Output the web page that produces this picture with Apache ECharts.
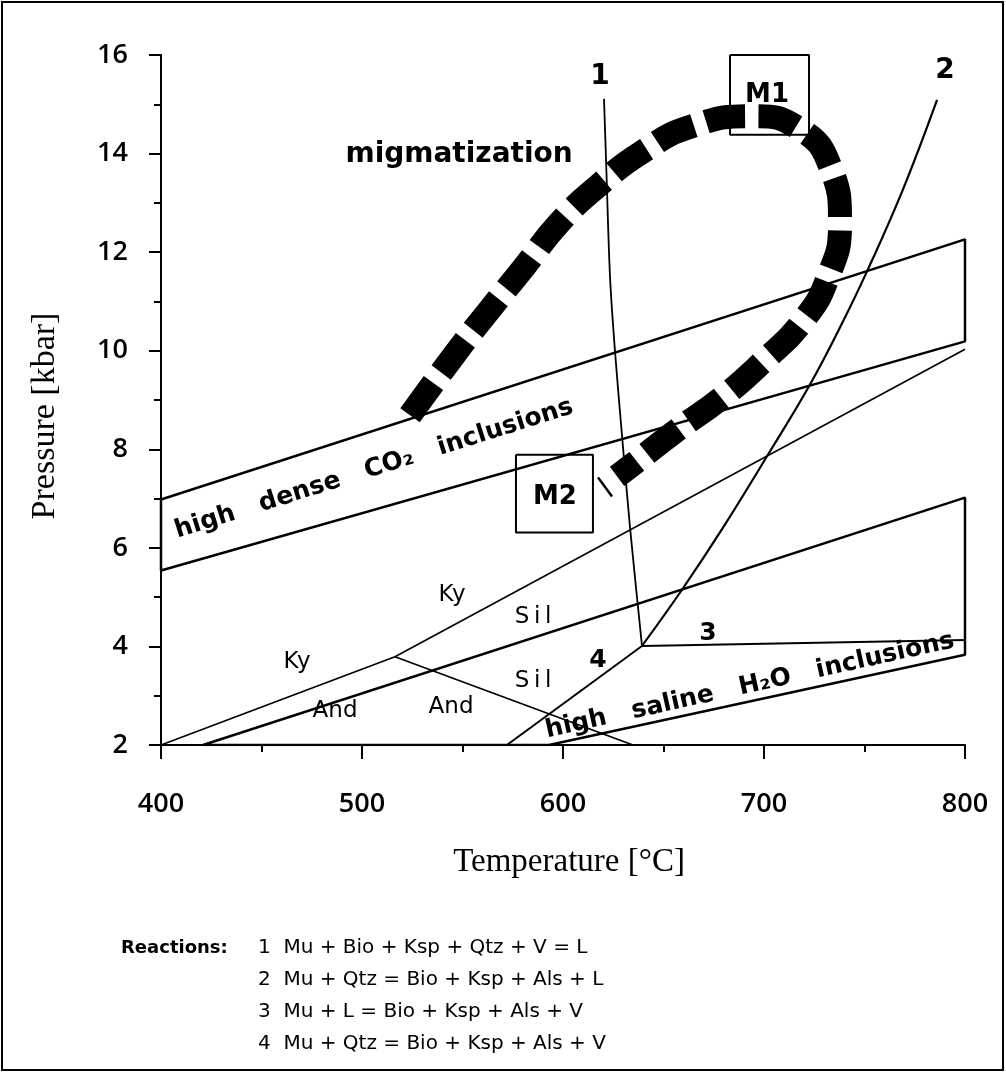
<!DOCTYPE html>
<html><head><meta charset="utf-8">
<script src="https://cdn.jsdelivr.net/npm/echarts@6/dist/echarts.min.js"></script>
<style>html,body{margin:0;padding:0;background:#fff}#c{width:1006px;height:1073px}</style>
</head><body><div id="c"></div>
<script>
// ---- data (temperature °C, pressure kbar) ----
const tempTicks = [400, 500, 600, 700, 800];
const pressTicks = [2, 4, 6, 8, 10, 12, 14, 16];
const co2Band = [[400, 6.98], [800, 12.26], [800, 10.19], [400, 5.54]];
const h2oBand = [[420.9, 2], [800, 7.02], [800, 3.83], [593, 2]];
const kyAnd = [[400, 2], [516.4, 3.79]];
const kySil = [[516.4, 3.79], [800, 10.03]];
const andSil = [[516.4, 3.79], [634.8, 2]];
const reaction1 = [[620.4, 15.11], [621.4, 13.89], [623.4, 11.49], [625.9, 9.97], [629.4, 8.26], [633.3, 6.43], [639.3, 4.01]];
const reaction2 = [[786.1, 15.09], [769.2, 13.28], [751.7, 11.65], [737.3, 10.43], [722.4, 9.28], [703.0, 7.96], [679.6, 6.41], [659.2, 5.15], [639.3, 4.01]];
const reaction3 = [[639.3, 4.01], [801.5, 4.13]];
const reaction4 = [[639.3, 4.01], [572.1, 2]];
const ptPath = [[523.9, 8.69], [547.3, 9.99], [563.7, 10.84], [581.1, 11.72], [598.0, 12.59], [617.9, 13.36], [639.3, 14.03], [663.2, 14.54], [694.0, 14.76], [716.9, 14.52], [732.8, 13.75], [737.8, 12.59], [731.8, 11.49], [718.9, 10.58], [699.5, 9.78], [679.1, 9.05], [655.7, 8.36], [635.3, 7.71], [626.9, 7.45]];
const pathEndBar = [[617.4, 7.43], [624.4, 7.04]];
const boxM1 = [[683.1, 16.0], [722.4, 16.0], [722.4, 14.38], [683.1, 14.38]];
const boxM2 = [[576.6, 7.89], [614.9, 7.89], [614.9, 6.31], [576.6, 6.31]];
// labels: [T, P, text, rotate(deg), kind]
const fieldLabels = [
  [548.3, 13.97, 'migmatization', 0, 'big'],
  [618.4, 15.55, '1', 0, 'num'],
  [790.0, 15.68, '2', 0, 'num'],
  [672.1, 4.26, '3', 0, 'num2'],
  [617.4, 3.71, '4', 0, 'num2'],
  [701.5, 15.19, 'M1', 0, 'box'],
  [596.0, 7.02, 'M2', 0, 'box'],
  [467.7, 3.69, 'Ky', 0, 'min'],
  [544.8, 5.05, 'Ky', 0, 'min'],
  [585.1, 4.60, 'S\u2009i\u2009l', 0, 'min'],
  [585.1, 3.30, 'S\u2009i\u2009l', 0, 'min'],
  [486.6, 2.69, 'And', 0, 'min'],
  [544.3, 2.77, 'And', 0, 'min'],
  [506.0, 7.60, 'high   dense   CO\u2082   inclusions', 17.5, 'band'],
  [693.0, 3.20, 'high   saline   H\u2082O   inclusions', 12.5, 'band']
];
const xTitle = 'Temperature [°C]';
const yTitle = 'Pressure [kbar]';
const reactionTitle = 'Reactions:';
const reactionLines = [
  '1  Mu + Bio + Ksp + Qtz + V = L',
  '2  Mu + Qtz = Bio + Ksp + Als + L',
  '3  Mu + L = Bio + Ksp + Als + V',
  '4  Mu + Qtz = Bio + Ksp + Als + V'
];

// ---- styles ----
const labelFonts = {
  big: 'bold 28px "DejaVu Sans"',
  num: 'bold 28px "DejaVu Sans"',
  num2: 'bold 25px "DejaVu Sans"',
  box: 'bold 26px "DejaVu Sans"',
  min: '23px "DejaVu Sans"',
  band: 'bold 25px "DejaVu Sans"'
};
function closed(a) { return a.concat([a[0]]); }
function ln(data, width, extra) {
  return Object.assign({
    type: 'line', data: data, symbol: 'none', silent: true, animation: false,
    lineStyle: {color: '#000', width: width}, z: 2
  }, extra || {});
}

const chart = echarts.init(document.getElementById('c'), null, {renderer: 'canvas'});
const tickFont = {color: '#000', fontSize: 27, fontFamily: 'Open Sans', fontWeight: 600};
chart.setOption({
  backgroundColor: '#fff',
  animation: false,
  grid: {left: 161, right: 41, top: 55, bottom: 328, containLabel: false, outerBoundsMode: 'none'},
  xAxis: {
    type: 'value', min: tempTicks[0], max: tempTicks[tempTicks.length - 1], interval: 100,
    axisLine: {lineStyle: {color: '#000', width: 2}},
    axisTick: {length: 14, lineStyle: {color: '#000', width: 2}},
    minorTick: {show: true, splitNumber: 2, length: 7, lineStyle: {color: '#000', width: 2}},
    splitLine: {show: false},
    axisLabel: Object.assign({margin: 46, formatter: v => tempTicks.includes(v) ? String(v) : ''}, tickFont)
  },
  yAxis: {
    type: 'value', min: pressTicks[0], max: pressTicks[pressTicks.length - 1], interval: 2,
    axisLine: {lineStyle: {color: '#000', width: 2}},
    axisTick: {length: 12, lineStyle: {color: '#000', width: 2}},
    minorTick: {show: true, splitNumber: 2, length: 7, lineStyle: {color: '#000', width: 2}},
    splitLine: {show: false},
    axisLabel: Object.assign({margin: 33, formatter: v => pressTicks.includes(v) ? String(v) : ''}, tickFont)
  },
  series: [
    ln(closed(co2Band), 2.5),
    ln(closed(h2oBand), 2.5),
    ln(kyAnd, 1.6),
    ln(kySil, 1.6),
    ln(andSil, 1.8),
    ln(reaction1, 1.8, {smooth: 0.3}),
    ln(reaction2, 2.2, {smooth: 0.4}),
    ln(reaction3, 2, {clip: false}),
    ln(reaction4, 2),
    ln(closed(boxM1), 2),
    ln(closed(boxM2), 2),
    ln(ptPath, 24, {smooth: 0.5, z: 5, lineStyle: {color: '#000', width: 24, type: [40, 13], cap: 'butt'}}),
    ln(pathEndBar, 2.5, {z: 5})
  ]
});

// text annotations placed through the chart's own scales
const g = [
  {type: 'rect', shape: {x: 2, y: 2, width: 1001, height: 1068}, style: {fill: 'none', stroke: '#000', lineWidth: 2}, silent: true},
  {type: 'text', x: 45, y: 416, rotation: Math.PI / 2, silent: true,
    style: {text: yTitle, font: '34px "Liberation Serif"', fill: '#000', align: 'center', verticalAlign: 'middle'}},
  {type: 'text', x: chart.convertToPixel({gridIndex: 0}, [603, 2])[0], y: 862, silent: true,
    style: {text: xTitle, font: '33px "Liberation Serif"', fill: '#000', align: 'center', verticalAlign: 'middle'}},
  {type: 'text', x: 121, y: 948, silent: true,
    style: {text: reactionTitle, font: 'bold 18px "DejaVu Sans"', fill: '#000', align: 'left', verticalAlign: 'middle'}}
];
reactionLines.forEach((t, i) => g.push({
  type: 'text', x: 258, y: 948 + i * 32, silent: true,
  style: {text: t, font: '20px "DejaVu Sans"', fill: '#000', align: 'left', verticalAlign: 'middle'}
}));
fieldLabels.forEach(l => {
  const p = chart.convertToPixel({gridIndex: 0}, [l[0], l[1]]);
  g.push({type: 'text', x: p[0], y: p[1], rotation: l[3] * Math.PI / 180, z: l[4] === 'box' ? 1 : 10, silent: true,
    style: {text: l[2], font: labelFonts[l[4]], fill: '#000', align: 'center', verticalAlign: 'middle'}});
});
chart.setOption({graphic: g});
</script></body></html>
